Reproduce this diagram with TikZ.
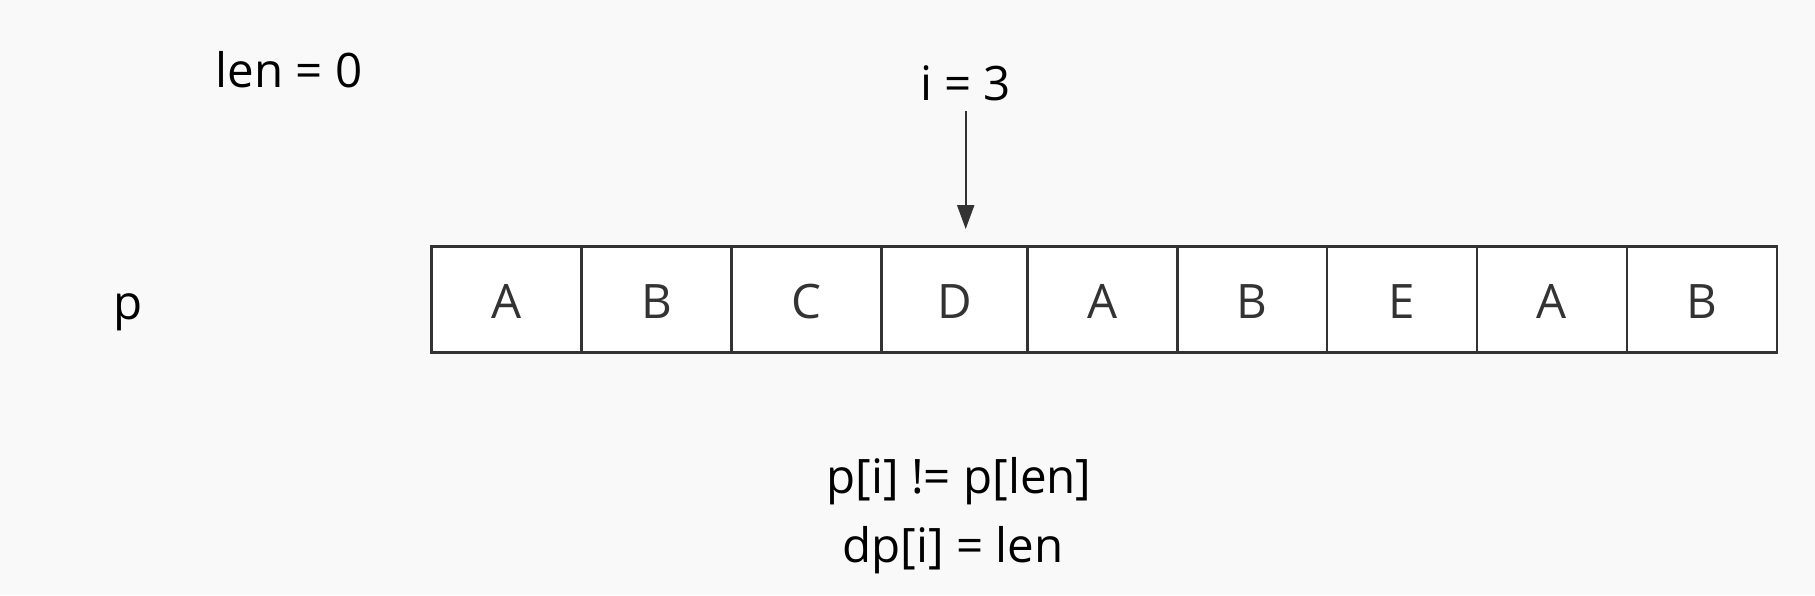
\documentclass[tikz,border=0pt]{standalone}
\usepackage{fontspec}
\setmainfont{Open Sans}
\usetikzlibrary{arrows.meta}
\definecolor{bgc}{HTML}{F9F9F9}
\definecolor{ink}{HTML}{333333}
\begin{document}
\begin{tikzpicture}[x=1pt,y=-1pt,
  big/.style={font=\fontsize{47.5}{56}\selectfont},
  label/.style={big, text=black, inner sep=0pt, anchor=base},
  cell/.style={big, draw=ink, line width=2.7pt, fill=white, text=ink,
    minimum height=105.6pt, inner sep=0pt, text height=38.6pt, text depth=0pt},
  pointer/.style={draw=ink, line width=2.2pt, -{Triangle[length=24pt,width=17pt]}}]
\fill[bgc] (0,0) rectangle (1815,595);
\useasboundingbox (0,0) rectangle (1815,595);
% cells
\node[cell, minimum width=150pt] (c1) at (506.5,299.5) {A};
\node[cell, minimum width=150pt] (c2) at (656.5,299.5) {B};
\node[cell, minimum width=150pt] (c3) at (806.5,299.5) {C};
\node[cell, minimum width=146pt] (c4) at (954.5,299.5) {D};
\node[cell, minimum width=150pt] (c5) at (1102.5,299.5) {A};
\node[cell, minimum width=149.5pt] (c6) at (1252.25,299.5) {B};
\node[cell, minimum width=150pt] (c7) at (1402,299.5) {E};
\node[cell, minimum width=150pt] (c8) at (1552,299.5) {A};
\node[cell, minimum width=150pt] (c9) at (1702,299.5) {B};
% labels
\node[label] (len) at (289,87.5) {len = 0};
\node[label] (ilab) at (965.5,100) {i = 3};
\node[label] (plab) at (128,319) {p};
\node[label] (cond) at (959,493) {p[i] != p[len]};
\node[label] (assign) at (953,562.7) {dp[i] = len};
% pointer
\coordinate (ptop) at (965.7,111);
\coordinate (ptip) at (965.7,229);
\draw[pointer] (ptop) -- (ptip);
\end{tikzpicture}
\end{document}
